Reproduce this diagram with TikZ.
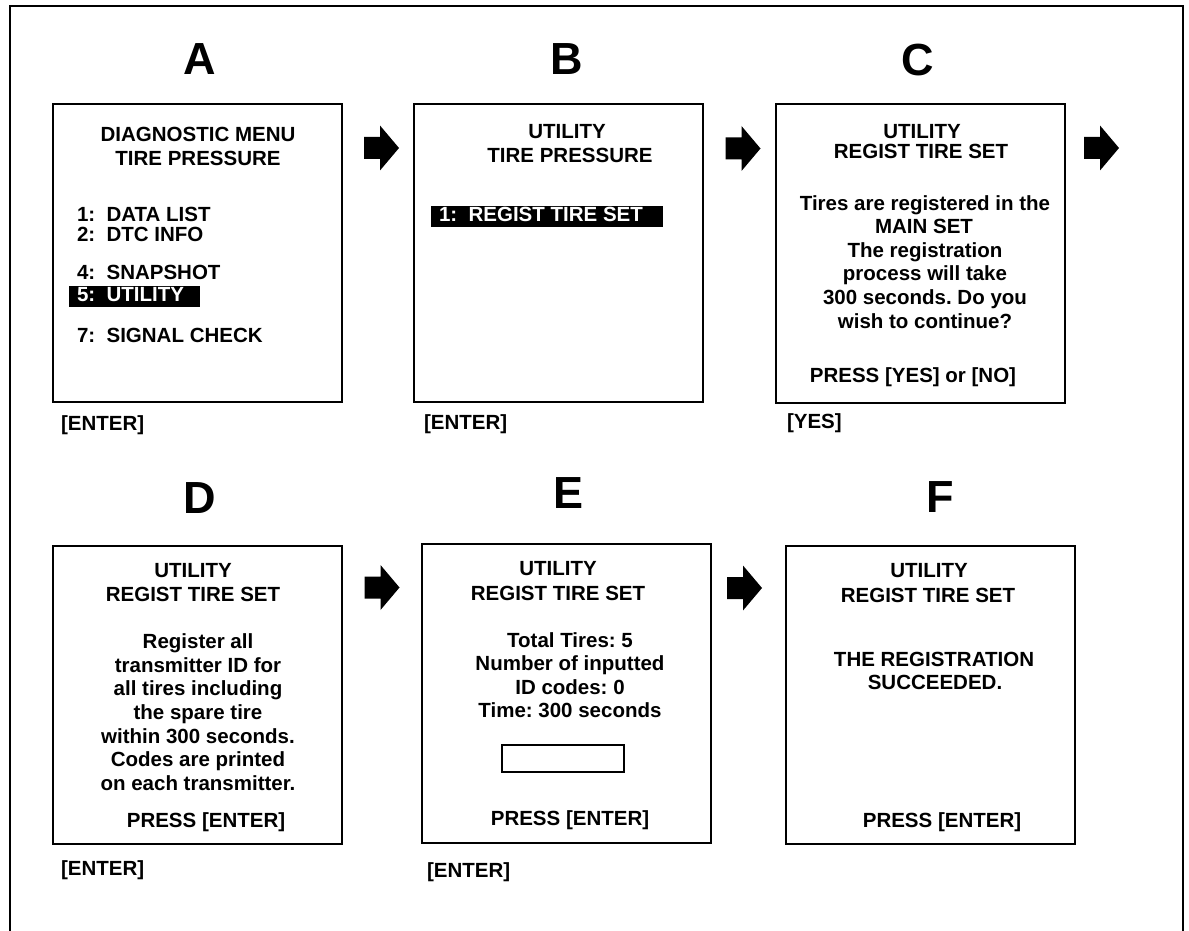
\documentclass[tikz,border=0pt]{standalone}
\usepackage{fontspec}
\setmainfont{Liberation Sans}
\frenchspacing
\begin{document}
\begin{tikzpicture}[x=1pt,y=-1pt,
  screen/.style={draw=black,line width=2pt,inner sep=0pt,outer sep=0pt},
  txt/.style={anchor=base,inner sep=0pt,outer sep=0pt,font=\fontsize{20.5}{24}\selectfont\bfseries\frenchspacing},
  ltxt/.style={txt,anchor=base west},
  big/.style={anchor=base,inner sep=0pt,outer sep=0pt,font=\fontsize{45}{48}\selectfont\bfseries},
  hlbar/.style={fill=black,inner sep=0pt,outer sep=0pt},
  blkarr/.pic={\fill[black] (-17.5,-11) -- (-1.5,-11) -- (-1.5,-22.5) -- (17.5,0) -- (-1.5,22.5) -- (-1.5,11) -- (-17.5,11) -- cycle;}
]
\useasboundingbox (0,0) rectangle (1189,931);
% outer frame
\coordinate (f1) at (10,931);
\coordinate (f2) at (10,6);
\coordinate (f3) at (1183,6);
\coordinate (f4) at (1183,931);
\draw[line width=2.5pt] (f1) -- (f2) -- (f3) -- (f4);

% letters
\node[big] (lA) at (200,75) {A};
\node[big] (lB) at (567,75) {B};
\node[big] (lC) at (918,76) {C};
\node[big] (lD) at (200,513) {D};
\node[big] (lE) at (569,508) {E};
\node[big] (lF) at (940,512) {F};

% screens
\node[screen,minimum width=289pt,minimum height=298pt] (A) at (197.5,253) {};
\node[screen,minimum width=289pt,minimum height=298pt] (B) at (558.5,253) {};
\node[screen,minimum width=289pt,minimum height=299pt] (C) at (920.5,253.5) {};
\node[screen,minimum width=289pt,minimum height=298pt] (D) at (197.5,695) {};
\node[screen,minimum width=289pt,minimum height=299pt] (E) at (566.5,693.5) {};
\node[screen,minimum width=289pt,minimum height=298pt] (F) at (930.5,695) {};

% arrows
\pic at (381.5,148) {blkarr};
\pic at (743,148.5) {blkarr};
\pic at (1101.5,148) {blkarr};
\pic at (382,587.5) {blkarr};
\pic at (744.5,588) {blkarr};

% screen A
\node[txt] (a1) at (198,142) {DIAGNOSTIC MENU};
\node[txt] (a2) at (198,166) {TIRE PRESSURE};
\node[ltxt] (a3) at (77,221) {1:\ \ DATA LIST};
\node[ltxt] (a4) at (77,241) {2:\ \ DTC INFO};
\node[ltxt] (a5) at (77,279) {4:\ \ SNAPSHOT};
\node[hlbar,minimum width=131pt,minimum height=21pt] (hA) at (134.5,296.5) {};
\node[ltxt,text=white] (a6) at (77,301) {5:\ \ UTILITY};
\node[ltxt] (a7) at (77,342) {7:\ \ SIGNAL CHECK};
\node[ltxt] (ka) at (61,430) {[ENTER]};

% screen B
\node[txt] (b1) at (567,139) {UTILITY};
\node[txt] (b2) at (570,163) {TIRE PRESSURE};
\node[hlbar,minimum width=232pt,minimum height=21pt] (hB) at (547,216.5) {};
\node[ltxt,text=white] (b3) at (439,222) {1:\ \ REGIST TIRE SET};
\node[ltxt] (kb) at (424,429) {[ENTER]};

% screen C
\node[txt] (c1) at (922,139) {UTILITY};
\node[txt] (c2) at (921,158) {REGIST TIRE SET};
\node[txt] (c3) at (925,210) {Tires are registered in the};
\node[txt] (c4) at (924,233) {MAIN SET};
\node[txt] (c5) at (925,257) {The registration};
\node[txt] (c6) at (925,280) {process will take};
\node[txt] (c7) at (925,304) {300 seconds. Do you};
\node[txt] (c8) at (925,328) {wish to continue?};
\node[txt] (c9) at (913,382) {PRESS [YES] or [NO]};
\node[ltxt] (kc) at (787,428) {[YES]};

% screen D
\node[txt] (d1) at (193,577) {UTILITY};
\node[txt] (d2) at (193,601) {REGIST TIRE SET};
\node[txt] (d3) at (198,648) {Register all};
\node[txt] (d4) at (198,672) {transmitter ID for};
\node[txt] (d5) at (198,695) {all tires including};
\node[txt] (d6) at (198,719) {the spare tire};
\node[txt] (d7) at (198,743) {within 300 seconds.};
\node[txt] (d8) at (198,766) {Codes are printed};
\node[txt] (d9) at (198,790) {on each transmitter.};
\node[txt] (d10) at (206,827) {PRESS [ENTER]};
\node[ltxt] (kd) at (61,875) {[ENTER]};

% screen E
\node[txt] (e1) at (558,575) {UTILITY};
\node[txt] (e2) at (558,600) {REGIST TIRE SET};
\node[txt] (e3) at (570,647) {Total Tires: 5};
\node[txt] (e4) at (570,670) {Number of inputted};
\node[txt] (e5) at (570,694) {ID codes: 0};
\node[txt] (e6) at (570,717) {Time: 300 seconds};
\node[draw=black,line width=1.8pt,minimum width=122pt,minimum height=27pt,inner sep=0pt] (ebox) at (563,758.5) {};
\node[txt] (e7) at (570,825) {PRESS [ENTER]};
\node[ltxt] (ke) at (427,877) {[ENTER]};

% screen F
\node[txt] (g1) at (929,577) {UTILITY};
\node[txt] (g2) at (928,602) {REGIST TIRE SET};
\node[txt] (g3) at (934,666) {THE REGISTRATION};
\node[txt] (g4) at (935,689) {SUCCEEDED.};
\node[txt] (g5) at (942,827) {PRESS [ENTER]};
\end{tikzpicture}
\end{document}
